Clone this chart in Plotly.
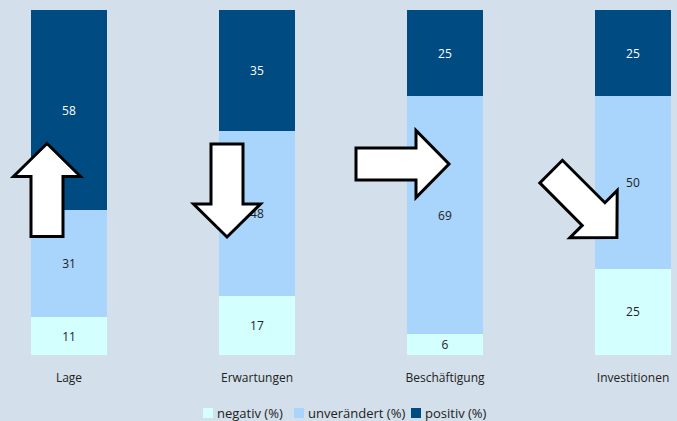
import math
import plotly.graph_objects as go

categories = ["Lage", "Erwartungen", "Beschäftigung", "Investitionen"]
negativ = [11, 17, 6, 25]
unveraendert = [31, 48, 69, 50]
positiv = [58, 35, 25, 25]

series_names = ["negativ (%)", "unverändert (%)", "positiv (%)"]
colors = ["#d4ffff", "#a9d4fb", "#004b82"]
text_colors = ["#222222", "#222222", "#ffffff"]

# arrow direction per category (degrees, counter-clockwise from right)
arrow_angles = [90, -90, 0, -45]
# arrow centre offset from the bar centre (px) and height above the baseline (px)
arrow_offsets = [(-22, 165), (-30, 164.5), (-42.5, 191), (-49, 150.5)]

W, H = 677, 421
M_T, M_B = 10, 66
plot_h = H - M_T - M_B

fig = go.Figure()

for name, vals, col, tcol in zip(series_names, [negativ, unveraendert, positiv], colors, text_colors):
    fig.add_trace(go.Bar(
        x=list(range(len(categories))), y=vals,
        name=name,
        marker=dict(color=col, line=dict(width=0)),
        width=0.404,
        text=vals, textposition='inside', insidetextanchor='middle',
        textangle=0, constraintext='none',
        textfont=dict(color=tcol, size=12, family="Open Sans"),
        hoverinfo='skip', showlegend=False,
    ))

# white block arrows
length, head_len, head_w, shaft_w = 93, 33, 67, 32
template = [(-length / 2, -shaft_w / 2), (length / 2 - head_len, -shaft_w / 2),
            (length / 2 - head_len, -head_w / 2), (length / 2, 0),
            (length / 2 - head_len, head_w / 2), (length / 2 - head_len, shaft_w / 2),
            (-length / 2, shaft_w / 2)]
for i, (ang, (dx, dy)) in enumerate(zip(arrow_angles, arrow_offsets)):
    a = math.radians(ang)
    pts = []
    for px, py in template:
        rx = px * math.cos(a) - py * math.sin(a) + dx
        ry = px * math.sin(a) + py * math.cos(a) + dy
        pts.append(f"{rx:.1f},{ry:.1f}")
    path = "M" + " L".join(pts) + " Z"
    fig.add_shape(type='path', path=path,
                  xref='x', yref='y', xsizemode='pixel', ysizemode='pixel',
                  xanchor=i, yanchor=0,
                  fillcolor='white', line=dict(color='black', width=3),
                  layer='above')

# legend drawn by hand (swatch left edge, px)
legend_x = [203, 294, 411]
legend_y = 413
for name, col, lx in zip(series_names, colors, legend_x):
    fig.add_shape(type='rect', xref='paper', yref='paper',
                  x0=lx / W, x1=(lx + 10) / W,
                  y0=(H - M_B - (legend_y + 5)) / plot_h, y1=(H - M_B - (legend_y - 5)) / plot_h,
                  fillcolor=col, line=dict(width=0))
    fig.add_annotation(text=name, xref='paper', yref='paper',
                       x=(lx + 12) / W, y=(H - M_B - legend_y) / plot_h,
                       xanchor='left', yanchor='middle', showarrow=False,
                       font=dict(size=13, color='#222222'))

fig.update_layout(
    barmode='stack',
    width=W, height=H,
    margin=dict(l=0, r=0, t=M_T, b=M_B, autoexpand=False),
    paper_bgcolor='#d3dfea',
    plot_bgcolor='#d3dfea',
    font=dict(family="Open Sans", size=12, color='#222222'),
    showlegend=False,
    xaxis=dict(range=[-0.367, 3.234], tickmode='array',
               tickvals=list(range(len(categories))), ticktext=categories,
               showgrid=False, zeroline=False, showline=False,
               ticklabelstandoff=14, automargin=False),
    yaxis=dict(range=[0, 100], visible=False, showgrid=False),
)

fig.write_html("out.html", config={'displayModeBar': False},
               post_script="document.body.style.margin='0';document.body.style.overflow='hidden';")
